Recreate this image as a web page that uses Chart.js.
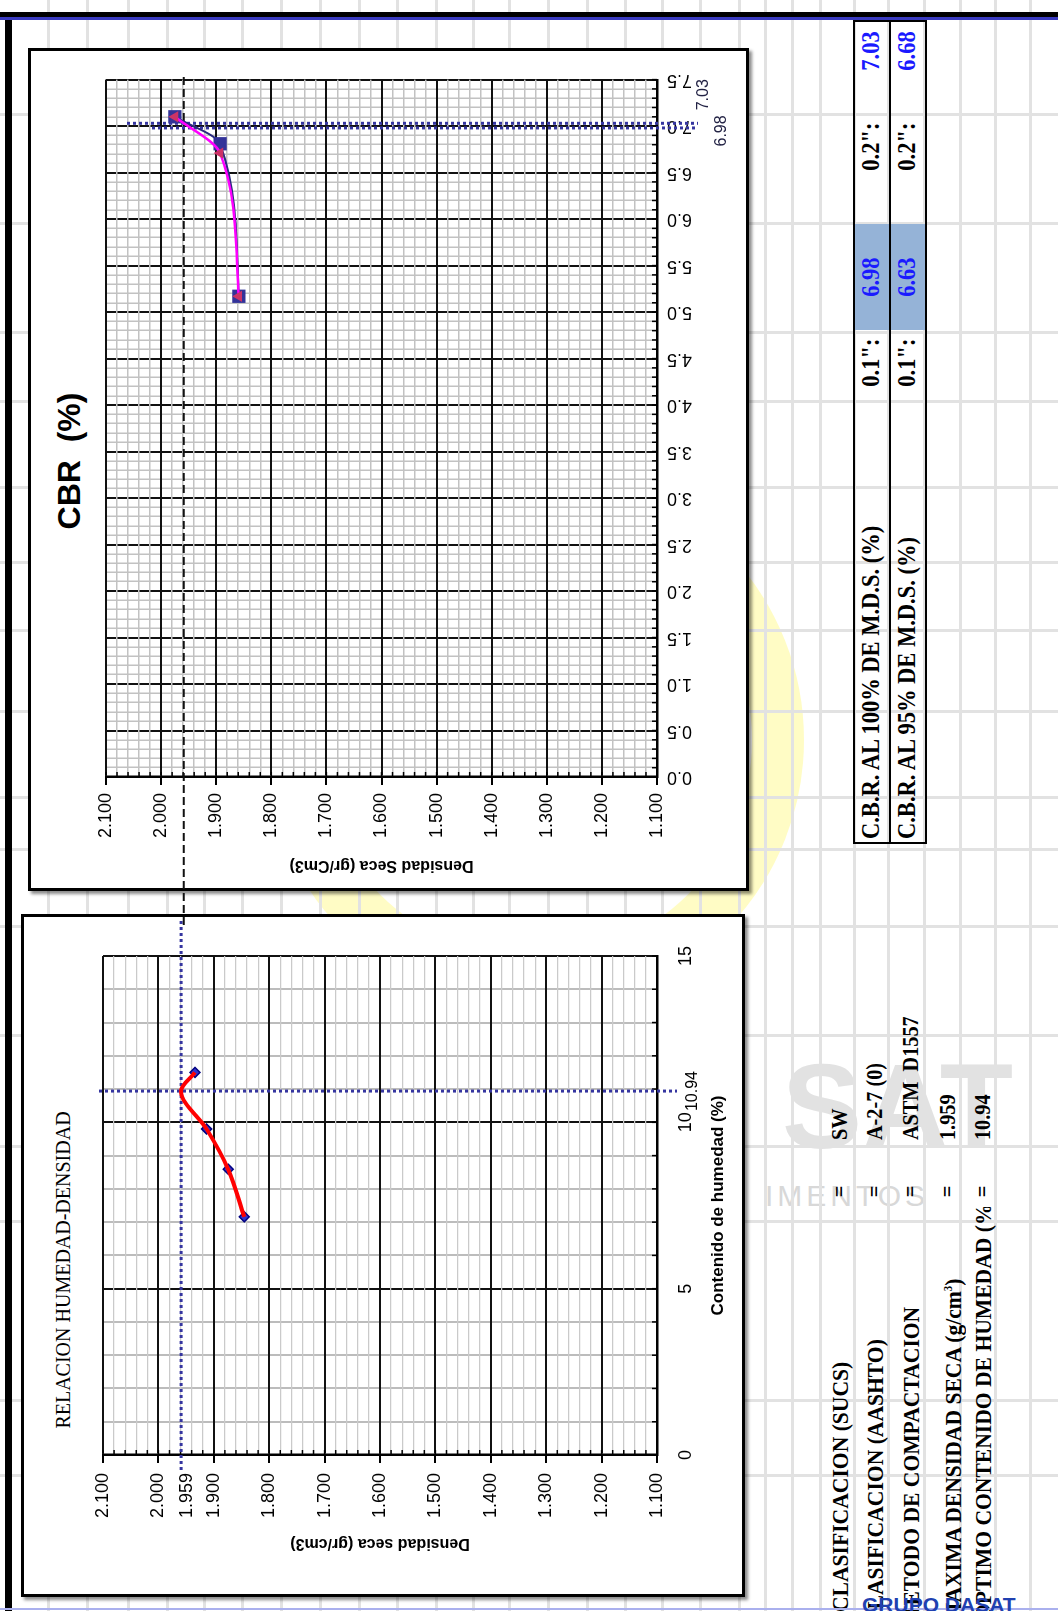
<!DOCTYPE html>
<html>
<head>
<meta charset="utf-8">
<script src="https://cdn.jsdelivr.net/npm/chart.js@4.4.1/dist/chart.umd.min.js"></script>
<style>
html, body { margin:0; padding:0; background:#fff; }
#frame { position:absolute; left:0; top:0; width:1058px; height:1611px; overflow:hidden; background:#fff; }
#ring { position:absolute; left:264px; top:470px; width:540px; height:540px; border-radius:50%; border:52px solid rgba(255,250,150,0.55); box-sizing:border-box; }
#wmSat { position:absolute; left:782px; top:1046px; font:bold 120px 'Liberation Sans', Arial, sans-serif; line-height:1; color:#e2e2e2; }
#wmTxt { position:absolute; left:765px; top:1181px; font:30px 'Liberation Sans', Arial, sans-serif; line-height:1; letter-spacing:4px; color:#d8d8d8; }
#logo { position:absolute; left:862px; top:1594px; font:bold 21px 'Liberation Sans', Arial, sans-serif; color:#2040b0; line-height:1; }
#page { position:absolute; left:0; top:0; width:1611px; height:1058px; transform-origin:0 0; transform:translate(0,1611px) rotate(-90deg); overflow:hidden; }
.hl { position:absolute; left:0; width:1611px; height:3px; background:#e2e2e2; }
.vl { position:absolute; top:0; height:1058px; width:3px; background:#e2e2e2; }
.panel { position:absolute; background:#fff; border:3px solid #000; box-sizing:border-box; box-shadow:-3px 3px 3px rgba(0,0,0,0.45); }
.bar { position:absolute; }
canvas { position:absolute; }
.txt { position:absolute; white-space:nowrap; font-family:'Liberation Serif', 'Times New Roman', serif; font-weight:bold; font-size:25px; line-height:30px; height:30px; }
.txt span { display:inline-block; transform:scaleX(0.9); }
.small { font-size:23px; }
.small span { transform:scaleX(0.88); }
.lab { font-size:24px; }
.lab span { transform:scaleX(0.9); }
.blue { color:#1a1aff; }
#tCbr { position:absolute; left:1000px; top:49px; width:300px; text-align:center; font:bold 32px 'Liberation Sans', Arial, sans-serif; line-height:40px; white-space:nowrap; }
#tHum { position:absolute; left:141px; top:51px; width:400px; text-align:center; font:20px 'Liberation Serif', 'Times New Roman', serif; line-height:24px; white-space:nowrap; }
#soilClip { position:absolute; left:0; top:800px; width:404px; height:210px; overflow:hidden; }
</style>
</head>
<body>
<div id="frame">
  <div id="ring"></div>
  <div id="wmSat">SAT</div>
  <div id="wmTxt">IMENTOS</div>
  <div id="page">
    <div id="gridLines"></div>
    <div class="panel" style="left:720px; top:28px; width:843px; height:721px;"></div>
    <div class="panel" style="left:14px; top:21px; width:683px; height:724px;"></div>
    <div id="tCbr">CBR&nbsp;&nbsp;(%)</div>
    <div id="tHum">RELACION HUMEDAD-DENSIDAD</div>
    <canvas id="humChart" width="683" height="724" style="left:14px; top:21px; width:683px; height:724px;"></canvas>
    <canvas id="cbrChart" width="883" height="721" style="left:680px; top:28px; width:883px; height:721px;"></canvas>
    <div id="cbrTable"></div>
    <div id="soilClip"></div>
    <div class="bar" style="left:0; top:5px; width:1598px; height:7px; background:#000;"></div>
    <div class="bar" style="left:1591px; top:0; width:3px; height:1058px; background:#3a3ac0;"></div>
    <div class="bar" style="left:1594px; top:0; width:5px; height:1058px; background:#000;"></div>
    <div class="bar" style="left:1px; top:0; width:2px; height:1058px; background:#aab0ee;"></div>
  </div>
  <div id="logo">GRUPO DASAT</div>
</div>
<script>
// CBR vs densidad seca
var cbrDensity = [1.859, 1.893, 1.975];
var cbrNavy = [5.17, 6.81, 7.10];
var cbrMagenta = [5.17, 6.71, 7.10];
var cbrAtMax = [6.98, 7.03];

// Proctor: humedad vs densidad seca
var moisture = [7.16, 8.59, 9.80, 11.50];
var dryDensity = [1.845, 1.874, 1.913, 1.934];
var curveMoisture = [7.16, 8.59, 9.80, 10.94, 11.50];
var curveDensity = [1.845, 1.874, 1.913, 1.959, 1.934];
var maxDensity = 1.959;
var optMoisture = 10.94;

// tablas
var cbrRowLabels = ['C.B.R. AL 100% DE M.D.S. (%)', 'C.B.R. AL 95% DE M.D.S. (%)'];
var cbr01 = ['6.98', '6.63'];
var cbr02 = ['7.03', '6.68'];
var soilLabels = ['CLASIFICACION (SUCS)', 'CLASIFICACION (AASHTO)', 'METODO DE COMPACTACION', 'MAXIMA DENSIDAD SECA (g/cm<sup style="font-size:12px">3</sup>)', 'OPTIMO CONTENIDO DE HUMEDAD (%)'];
var soilValues = ['SW', 'A-2-7 (0)', 'ASTM&nbsp; D1557', '1.959', '10.94'];

// spreadsheet cell lines (page coordinates)
var rowLines = [48, 87, 128, 167, 204, 242, 281, 320, 359, 397, 436, 473, 509, 548, 587, 625, 662, 700, 739, 765, 792, 820, 854, 888, 924, 960, 995, 1030];
var colLines = [135, 210, 389, 464, 575, 684, 761, 813, 899, 980, 1048, 1123, 1209, 1278, 1387, 1496];

var gl = document.getElementById('gridLines');
for (var i = 0; i < rowLines.length; i++) {
    var d = document.createElement('div');
    d.className = 'hl';
    d.style.top = (rowLines[i] - 1) + 'px';
    gl.appendChild(d);
}
for (var i = 0; i < colLines.length; i++) {
    var d = document.createElement('div');
    d.className = 'vl';
    d.style.left = (colLines[i] - 1) + 'px';
    gl.appendChild(d);
}

function addText(parent, html, x, vc, align, cls) {
    var d = document.createElement('div');
    d.className = 'txt' + (cls ? ' ' + cls : '');
    d.style.top = (vc - 15) + 'px';
    var s = document.createElement('span');
    s.innerHTML = html;
    if (align == 'right') {
        d.style.left = (x - 400) + 'px';
        d.style.width = '400px';
        d.style.textAlign = 'right';
        s.style.transformOrigin = 'right center';
    } else if (align == 'center') {
        d.style.left = (x - 200) + 'px';
        d.style.width = '400px';
        d.style.textAlign = 'center';
        s.style.transformOrigin = 'center center';
    } else {
        d.style.left = x + 'px';
        s.style.transformOrigin = 'left center';
    }
    d.appendChild(s);
    parent.appendChild(d);
}

// CBR table
var tab = document.getElementById('cbrTable');
tab.style.cssText = 'position:absolute;left:767px;top:853px;width:824px;height:74px;border:2px solid #000;box-sizing:border-box;';
var cell = document.createElement('div');
cell.style.cssText = 'position:absolute;left:512px;top:0;width:106px;height:70px;background:#95b3d7;';
tab.appendChild(cell);
var sep = document.createElement('div');
sep.style.cssText = 'position:absolute;left:0;top:34px;width:820px;height:2px;background:#000;';
tab.appendChild(sep);
var page = document.getElementById('page');
var rowV = [871, 907];
for (var i = 0; i < cbrRowLabels.length; i++) {
    addText(page, cbrRowLabels[i], 772, rowV[i], 'left');
    addText(page, '0.1&quot;:', 1272, rowV[i], 'right');
    addText(page, cbr01[i], 1334, rowV[i], 'center', 'blue');
    addText(page, '0.2&quot;:', 1488, rowV[i], 'right');
    addText(page, cbr02[i], 1580, rowV[i], 'right', 'blue');
}

// soil data block
var soilV = [840, 875, 911, 948, 983];
var soilStart = [-1, -14, -15, -12, -10];
var clip = document.getElementById('soilClip');
for (var i = 0; i < soilLabels.length; i++) {
    addText(clip, soilLabels[i], soilStart[i], soilV[i] - 800, 'left', 'lab');
    addText(page, '=', 420, soilV[i], 'center', 'small');
    addText(page, soilValues[i], 471, soilV[i], 'left', 'small');
}

Chart.defaults.font.family = "'Liberation Sans', Arial, sans-serif";
Chart.defaults.color = '#000';

function isMajor(v, step) {
    return Math.abs(v / step - Math.round(v / step)) < 1e-6;
}

function innerTicks(chart, len) {
    var ctx = chart.ctx, a = chart.chartArea;
    var xs = chart.scales.x, ys = chart.scales.y;
    ctx.save();
    ctx.strokeStyle = '#000';
    ctx.lineWidth = 1.5;
    xs.ticks.forEach(function(t) {
        var px = xs.getPixelForValue(t.value);
        ctx.beginPath(); ctx.moveTo(px, a.bottom); ctx.lineTo(px, a.bottom - len); ctx.stroke();
    });
    ys.ticks.forEach(function(t) {
        var py = ys.getPixelForValue(t.value);
        ctx.beginPath(); ctx.moveTo(a.left, py); ctx.lineTo(a.left + len, py); ctx.stroke();
    });
    ctx.restore();
}

var cbrMarks = {
    id: 'cbrMarks',
    beforeDatasetsDraw: function(chart) {
        var ctx = chart.ctx, a = chart.chartArea;
        var xs = chart.scales.x, ys = chart.scales.y;
        innerTicks(chart, 5);
        ctx.save();
        var py = ys.getPixelForValue(maxDensity);
        ctx.setLineDash([8, 4]);
        ctx.strokeStyle = '#111';
        ctx.lineWidth = 2;
        ctx.beginPath(); ctx.moveTo(6, py); ctx.lineTo(a.right + 6, py); ctx.stroke();
        ctx.setLineDash([3, 3]);
        ctx.strokeStyle = '#3535a0';
        ctx.lineWidth = 3;
        var starts = [46, 21];
        for (var i = 0; i < cbrAtMax.length; i++) {
            var px = xs.getPixelForValue(cbrAtMax[i]);
            ctx.beginPath(); ctx.moveTo(px, a.top + starts[i]); ctx.lineTo(px, a.bottom + 41); ctx.stroke();
        }
        ctx.restore();
    },
    afterDraw: function(chart) {
        var ctx = chart.ctx, a = chart.chartArea, xs = chart.scales.x;
        ctx.save();
        ctx.font = "16px 'Liberation Sans', Arial, sans-serif";
        ctx.fillStyle = '#222244';
        ctx.textBaseline = 'middle';
        ctx.textAlign = 'left';
        ctx.fillText(cbrAtMax[1].toFixed(2), xs.getPixelForValue(cbrAtMax[1]) + 13, a.bottom + 47);
        ctx.textAlign = 'center';
        ctx.fillText(cbrAtMax[0].toFixed(2), xs.getPixelForValue(cbrAtMax[0]) - 3, a.bottom + 65);
        ctx.restore();
    }
};

var humMarks = {
    id: 'humMarks',
    beforeDatasetsDraw: function(chart) {
        var ctx = chart.ctx, a = chart.chartArea;
        var xs = chart.scales.x, ys = chart.scales.y;
        innerTicks(chart, 5);
        ctx.save();
        ctx.setLineDash([3, 3]);
        ctx.strokeStyle = '#3535a0';
        ctx.lineWidth = 3;
        var py = ys.getPixelForValue(maxDensity);
        ctx.beginPath(); ctx.moveTo(a.left - 15, py); ctx.lineTo(a.right + 38, py); ctx.stroke();
        var px = xs.getPixelForValue(optMoisture);
        ctx.beginPath(); ctx.moveTo(px, a.top - 4); ctx.lineTo(px, a.bottom + 20); ctx.stroke();
        ctx.restore();
    },
    afterDraw: function(chart) {
        var ctx = chart.ctx, a = chart.chartArea;
        var xs = chart.scales.x, ys = chart.scales.y;
        ctx.save();
        ctx.fillStyle = '#000';
        ctx.font = "16px 'Liberation Sans', Arial, sans-serif";
        ctx.textAlign = 'center';
        ctx.textBaseline = 'middle';
        ctx.fillText(optMoisture.toFixed(2), xs.getPixelForValue(optMoisture), a.bottom + 36);
        ctx.font = "18px 'Liberation Sans', Arial, sans-serif";
        ctx.textAlign = 'right';
        ctx.fillText(maxDensity.toFixed(3), a.left - 18, ys.getPixelForValue(maxDensity) + 6);
        ctx.restore();
    }
};

function pts(xs, ys) {
    var out = [];
    for (var i = 0; i < xs.length; i++) out.push({ x: xs[i], y: ys[i] });
    return out;
}

var cbrChart = new Chart(document.getElementById('cbrChart').getContext('2d'), {
    type: 'scatter',
    data: {
        datasets: [{
            data: pts(cbrMagenta, cbrDensity),
            showLine: true,
            borderColor: '#ff00ff',
            borderWidth: 2.5,
            cubicInterpolationMode: 'monotone',
            pointStyle: 'triangle',
            pointRadius: 4,
            pointBackgroundColor: '#cc3366',
            pointBorderColor: '#cc3366'
        }, {
            data: pts(cbrNavy, cbrDensity),
            showLine: true,
            borderColor: '#2b2b80',
            borderWidth: 2,
            cubicInterpolationMode: 'monotone',
            pointStyle: 'rect',
            pointRadius: 8,
            pointBackgroundColor: '#333399',
            pointBorderColor: '#333399'
        }]
    },
    options: {
        responsive: false,
        animation: false,
        layout: { padding: { left: 52, right: 23, top: 78, bottom: 0 } },
        plugins: { legend: { display: false }, tooltip: { enabled: false } },
        scales: {
            x: {
                type: 'linear', min: 0, max: 7.5,
                afterFit: function(s) { s.height = 92; },
                ticks: {
                    stepSize: 0.1, autoSkip: false, minRotation: 90, maxRotation: 90, padding: 10,
                    font: { size: 18 },
                    callback: function(v) { return isMajor(v, 0.5) ? v.toFixed(1) : ''; }
                },
                grid: {
                    drawTicks: false,
                    color: function(c) { return c.tick && isMajor(c.tick.value, 0.5) ? '#111' : '#c2c2c2'; },
                    lineWidth: function(c) { return c.tick && isMajor(c.tick.value, 0.5) ? 2 : 1.5; }
                },
                border: { color: '#000', width: 2.5 }
            },
            y: {
                type: 'linear', min: 1.1, max: 2.1,
                afterFit: function(s) { s.width = 102; },
                ticks: {
                    stepSize: 0.02, autoSkip: false, padding: 8,
                    font: { size: 18 },
                    callback: function(v) { return isMajor(v, 0.1) ? v.toFixed(3) : ''; }
                },
                grid: {
                    tickLength: 8, tickWidth: 2,
                    tickColor: function(c) { return c.tick && isMajor(c.tick.value, 0.1) ? '#000' : 'rgba(0,0,0,0)'; },
                    color: function(c) { return c.tick && isMajor(c.tick.value, 0.1) ? '#111' : '#c2c2c2'; },
                    lineWidth: function(c) { return c.tick && isMajor(c.tick.value, 0.1) ? 2 : 1.5; }
                },
                border: { color: '#000', width: 2.5 },
                title: { display: true, text: 'Densidad Seca (gr/Cm3)', font: { size: 16, weight: 'bold' }, padding: { top: 4, bottom: 4 } }
            }
        }
    },
    plugins: [cbrMarks]
});

var humChart = new Chart(document.getElementById('humChart').getContext('2d'), {
    type: 'scatter',
    data: {
        datasets: [{
            data: pts(curveMoisture, curveDensity),
            showLine: true,
            borderColor: '#ff0000',
            borderWidth: 4,
            cubicInterpolationMode: 'monotone',
            pointRadius: 0
        }, {
            data: pts(moisture, dryDensity),
            showLine: false,
            pointStyle: 'rectRot',
            pointRadius: 5,
            pointBackgroundColor: '#3333cc',
            pointBorderColor: '#000080',
            pointBorderWidth: 1.5
        }]
    },
    options: {
        responsive: false,
        animation: false,
        layout: { padding: { left: 40, right: 42, top: 82, bottom: 12 } },
        plugins: { legend: { display: false }, tooltip: { enabled: false } },
        scales: {
            x: {
                type: 'linear', min: 0, max: 15,
                afterFit: function(s) { s.height = 76; },
                ticks: {
                    stepSize: 1, autoSkip: false, maxRotation: 0, padding: 18,
                    font: { size: 18 },
                    callback: function(v) { return isMajor(v, 5) ? v.toFixed(0) : ''; }
                },
                grid: {
                    drawTicks: false,
                    color: function(c) { return c.tick && isMajor(c.tick.value, 5) ? '#111' : '#bcbcbc'; },
                    lineWidth: 2
                },
                border: { color: '#000', width: 2.5 },
                title: { display: true, text: 'Contenido de humedad (%)', font: { size: 17, weight: 'bold' }, padding: { top: 4, bottom: 4 } }
            },
            y: {
                type: 'linear', min: 1.1, max: 2.1,
                afterFit: function(s) { s.width = 102; },
                ticks: {
                    stepSize: 0.02, autoSkip: false, padding: 10,
                    font: { size: 18 },
                    callback: function(v) { return isMajor(v, 0.1) ? v.toFixed(3) : ''; }
                },
                grid: {
                    tickLength: 8, tickWidth: 2,
                    tickColor: function(c) { return c.tick && isMajor(c.tick.value, 0.1) ? '#000' : 'rgba(0,0,0,0)'; },
                    color: function(c) { return c.tick && isMajor(c.tick.value, 0.1) ? '#111' : '#cacaca'; },
                    lineWidth: function(c) { return c.tick && isMajor(c.tick.value, 0.1) ? 2 : 1.2; }
                },
                border: { color: '#000', width: 2.5 },
                title: { display: true, text: 'Densidad seca (gr/cm3)', font: { size: 16, weight: 'bold' }, padding: { top: 4, bottom: 4 } }
            }
        }
    },
    plugins: [humMarks]
});
</script>
</body>
</html>
